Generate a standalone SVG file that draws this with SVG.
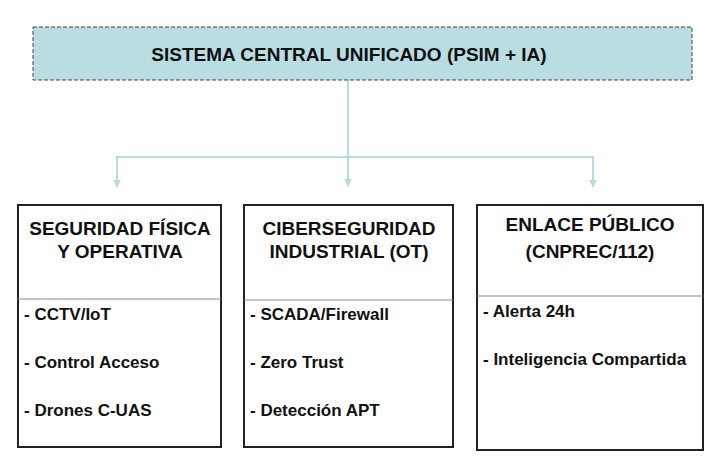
<svg xmlns="http://www.w3.org/2000/svg" width="723" height="471" viewBox="0 0 723 471">
<defs>
<style>
text{font-family:"Liberation Sans",Arial,sans-serif;font-weight:bold;fill:#111}
.title{font-size:19px;text-anchor:middle}
.head{font-size:19px;text-anchor:middle}
.item{font-size:17px}
.box{fill:#fff;stroke:#222;stroke-width:2}
.div{stroke:#8a8a8a;stroke-width:1.2}
.conn{fill:none;stroke:#b9dadf;stroke-width:2}
</style>
<marker id="arr" viewBox="0 0 10 10" refX="9" refY="5" markerWidth="4" markerHeight="4" orient="auto">
<path d="M0,0 L10,5 L0,10 z" fill="#b9dadf"/>
</marker>
</defs>
<rect width="723" height="471" fill="#fff"/>
<g id="connectors">
<path class="conn" d="M348,80 V186" marker-end="url(#arr)"/>
<path class="conn" d="M348,157 H117 V187" marker-end="url(#arr)"/>
<path class="conn" d="M348,157 H593 V187" marker-end="url(#arr)"/>
</g>
<g id="central">
<rect x="33" y="27" width="659" height="53" fill="#b9dde1" stroke="#444" stroke-width="1" stroke-dasharray="4,2"/>
<text class="title" x="349" y="61">SISTEMA CENTRAL UNIFICADO (PSIM + IA)</text>
</g>
<g id="fisica">
<rect class="box" x="18" y="205" width="203" height="242"/>
<line class="div" x1="18" y1="299" x2="221" y2="299"/>
<text class="head" x="120" y="235">SEGURIDAD FÍSICA</text>
<text class="head" x="120" y="258">Y OPERATIVA</text>
<text class="item" x="24" y="320">- CCTV/IoT</text>
<text class="item" x="24" y="368">- Control Acceso</text>
<text class="item" x="24" y="416">- Drones C-UAS</text>
</g>
<g id="ciber">
<rect class="box" x="244" y="205" width="209" height="242"/>
<line class="div" x1="244" y1="300" x2="453" y2="300"/>
<text class="head" x="349" y="235">CIBERSEGURIDAD</text>
<text class="head" x="349" y="258">INDUSTRIAL (OT)</text>
<text class="item" x="250" y="320">- SCADA/Firewall</text>
<text class="item" x="250" y="368">- Zero Trust</text>
<text class="item" x="250" y="416">- Detección APT</text>
</g>
<g id="enlace">
<rect class="box" x="477" y="205" width="226" height="245"/>
<line class="div" x1="477" y1="296" x2="703" y2="296"/>
<text class="head" x="590" y="231">ENLACE PÚBLICO</text>
<text class="head" x="590" y="258">(CNPREC/112)</text>
<text class="item" x="483" y="317">- Alerta 24h</text>
<text class="item" x="483" y="365">- Inteligencia Compartida</text>
</g>
</svg>
